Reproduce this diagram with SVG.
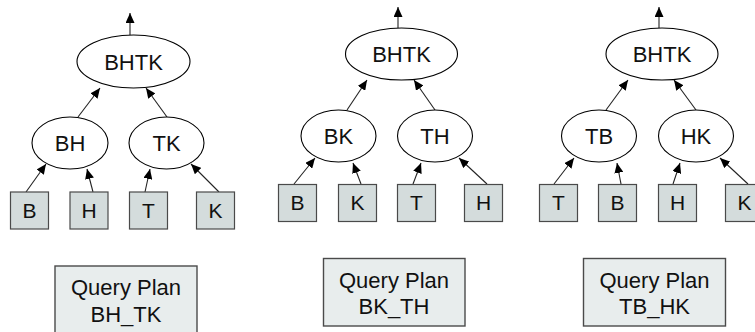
<svg xmlns="http://www.w3.org/2000/svg" width="755" height="332" viewBox="0 0 755 332">
  <style>
    .op { fill: #ffffff; stroke: #000000; stroke-width: 1.1; }
    .rel { fill: #d4dcdc; stroke: #4a4a4a; stroke-width: 1.2; }
    .plan { fill: #e8eded; stroke: #4a4a4a; stroke-width: 1.4; }
    .lbl { font-family: "Liberation Sans", Arial, sans-serif; font-size: 22px; fill: #111111; text-anchor: middle; }
    .rl { font-family: "Liberation Sans", Arial, sans-serif; font-size: 21px; fill: #111111; text-anchor: middle; }
    .edge { stroke: #222222; stroke-width: 1.1; fill: none; marker-end: url(#tip); }
  </style>
  <defs>
    <marker id="tip" markerUnits="userSpaceOnUse" markerWidth="11" markerHeight="9" refX="10" refY="4.5" orient="auto">
      <path d="M0,0 L10,4.5 L0,9 z" fill="#000000"/>
    </marker>
  </defs>

  <!-- connectors -->
  <g id="connectors">
    <!-- plan BH_TK -->
    <line class="edge" x1="130" y1="35" x2="130" y2="13"/>
    <line class="edge" x1="78" y1="117" x2="100" y2="88"/>
    <line class="edge" x1="167" y1="117" x2="146" y2="88"/>
    <line class="edge" x1="26" y1="192" x2="46" y2="164"/>
    <line class="edge" x1="93" y1="192" x2="87" y2="169"/>
    <line class="edge" x1="145" y1="192" x2="150" y2="169"/>
    <line class="edge" x1="219" y1="192" x2="191" y2="164"/>
    <!-- plan BK_TH -->
    <line class="edge" x1="398" y1="28" x2="398" y2="7"/>
    <line class="edge" x1="347" y1="110" x2="367" y2="80"/>
    <line class="edge" x1="435" y1="110" x2="414" y2="80"/>
    <line class="edge" x1="294" y1="184" x2="315" y2="158"/>
    <line class="edge" x1="361" y1="184" x2="353" y2="163"/>
    <line class="edge" x1="413" y1="184" x2="421" y2="163"/>
    <line class="edge" x1="487" y1="184" x2="459" y2="158"/>
    <!-- plan TB_HK -->
    <line class="edge" x1="659" y1="28" x2="659" y2="7"/>
    <line class="edge" x1="606" y1="110" x2="628" y2="80"/>
    <line class="edge" x1="696" y1="110" x2="674" y2="80"/>
    <line class="edge" x1="554" y1="184" x2="574" y2="158"/>
    <line class="edge" x1="621" y1="184" x2="617" y2="163"/>
    <line class="edge" x1="673" y1="184" x2="680" y2="163"/>
    <line class="edge" x1="748" y1="184" x2="720" y2="158"/>
  </g>

  <!-- plan BH_TK -->
  <g id="p1-bhtk"><ellipse class="op" cx="133.5" cy="61.5" rx="56.5" ry="26.5"/><text class="lbl" x="133.5" y="70">BHTK</text></g>
  <g id="p1-bh"><ellipse class="op" cx="70" cy="143" rx="38" ry="26"/><text class="lbl" x="70" y="151">BH</text></g>
  <g id="p1-tk"><ellipse class="op" cx="166.5" cy="143" rx="37.5" ry="26"/><text class="lbl" x="166.5" y="151">TK</text></g>
  <g id="p1-b"><rect class="rel" x="10.5" y="192" width="38" height="37"/><text class="rl" x="29.5" y="218">B</text></g>
  <g id="p1-h"><rect class="rel" x="70" y="192" width="38" height="37"/><text class="rl" x="89" y="218">H</text></g>
  <g id="p1-t"><rect class="rel" x="129.5" y="192" width="38" height="37"/><text class="rl" x="148.5" y="218">T</text></g>
  <g id="p1-k"><rect class="rel" x="196.5" y="192" width="38" height="37"/><text class="rl" x="215.5" y="218">K</text></g>
  <g id="p1-plan"><rect class="plan" x="55" y="266" width="142" height="70"/><text class="lbl" x="126" y="295">Query Plan</text><text class="lbl" x="126" y="322">BH_TK</text></g>

  <!-- plan BK_TH -->
  <g id="p2-bhtk"><ellipse class="op" cx="401.5" cy="54" rx="56" ry="26"/><text class="lbl" x="401.5" y="62">BHTK</text></g>
  <g id="p2-bk"><ellipse class="op" cx="338.5" cy="136" rx="37.5" ry="26"/><text class="lbl" x="338.5" y="144">BK</text></g>
  <g id="p2-th"><ellipse class="op" cx="435" cy="136" rx="37.5" ry="26"/><text class="lbl" x="435" y="144">TH</text></g>
  <g id="p2-b"><rect class="rel" x="278.5" y="184.5" width="38" height="37"/><text class="rl" x="297.5" y="210">B</text></g>
  <g id="p2-k"><rect class="rel" x="338.5" y="184.5" width="38" height="37"/><text class="rl" x="357.5" y="210">K</text></g>
  <g id="p2-t"><rect class="rel" x="397.5" y="184.5" width="38" height="37"/><text class="rl" x="416.5" y="210">T</text></g>
  <g id="p2-h"><rect class="rel" x="464.5" y="184.5" width="38" height="37"/><text class="rl" x="483.5" y="210">H</text></g>
  <g id="p2-plan"><rect class="plan" x="323.5" y="258.5" width="141.5" height="67.5"/><text class="lbl" x="394" y="288">Query Plan</text><text class="lbl" x="394" y="314">BK_TH</text></g>

  <!-- plan TB_HK -->
  <g id="p3-bhtk"><ellipse class="op" cx="662" cy="54" rx="56" ry="26"/><text class="lbl" x="662" y="62">BHTK</text></g>
  <g id="p3-tb"><ellipse class="op" cx="599" cy="136" rx="37.5" ry="26"/><text class="lbl" x="599" y="144">TB</text></g>
  <g id="p3-hk"><ellipse class="op" cx="696" cy="136" rx="37.5" ry="26"/><text class="lbl" x="696" y="144">HK</text></g>
  <g id="p3-t"><rect class="rel" x="539.5" y="184.5" width="38" height="37"/><text class="rl" x="558.5" y="210">T</text></g>
  <g id="p3-b"><rect class="rel" x="598.5" y="184.5" width="38" height="37"/><text class="rl" x="617.5" y="210">B</text></g>
  <g id="p3-h"><rect class="rel" x="658.5" y="184.5" width="38" height="37"/><text class="rl" x="677.5" y="210">H</text></g>
  <g id="p3-k"><rect class="rel" x="725.5" y="184.5" width="38" height="37"/><text class="rl" x="744.5" y="210">K</text></g>
  <g id="p3-plan"><rect class="plan" x="583.5" y="258.5" width="142" height="67.5"/><text class="lbl" x="654.5" y="288">Query Plan</text><text class="lbl" x="654.5" y="314">TB_HK</text></g>
</svg>
